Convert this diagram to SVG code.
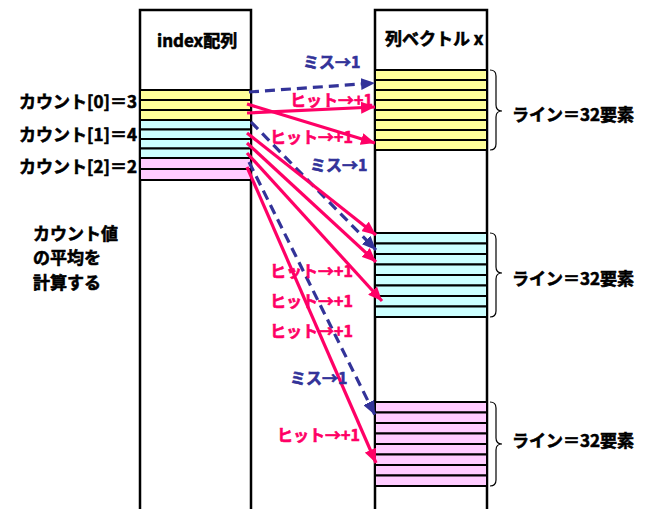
<svg xmlns="http://www.w3.org/2000/svg" width="652" height="509" viewBox="0 0 652 509">
<defs>
<style>
text{font-family:"Noto Sans CJK JP","Liberation Sans",sans-serif;font-weight:bold;stroke-width:0.6;}
.t{font-size:17px;fill:#000;stroke:#000;}
.lbl{font-size:16px;}
.hit{fill:#FF0066;stroke:#FF0066;}
.miss{fill:#333399;stroke:#333399;}
.col{fill:#fff;stroke:#000;stroke-width:2.5;}
.y{fill:#FFFF99;stroke:#000;stroke-width:2;}
.c{fill:#CCFFFF;stroke:#000;stroke-width:2;}
.p{fill:#FFCCFF;stroke:#000;stroke-width:2;}
.br{fill:none;stroke:#000;stroke-width:1.2;}
.pl{stroke:#FF0066;stroke-width:3.2;fill:none;marker-end:url(#ah);}
.bl{stroke:#333399;stroke-width:3.2;fill:none;stroke-dasharray:10 6;marker-end:url(#ab);}
</style>
<marker id="ah" markerUnits="userSpaceOnUse" markerWidth="15" markerHeight="12" refX="14" refY="6" orient="auto"><path d="M0,0 L14,6 L0,12 Z" fill="#FF0066"/></marker>
<marker id="ab" markerUnits="userSpaceOnUse" markerWidth="15" markerHeight="12" refX="14" refY="6" orient="auto"><path d="M0,0 L14,6 L0,12 Z" fill="#333399"/></marker>
</defs>
<rect width="652" height="509" fill="#fff"/>

<g id="index-array">
<rect class="col" x="140" y="10" width="111" height="520"/>
<text class="t" x="157" y="47" font-size="19">index配列</text>
<rect class="y" x="140" y="90" width="111" height="10"/>
<rect class="y" x="140" y="100" width="111" height="10"/>
<rect class="y" x="140" y="110" width="111" height="10"/>
<rect class="c" x="140" y="120" width="111" height="9.5"/>
<rect class="c" x="140" y="129.5" width="111" height="9.5"/>
<rect class="c" x="140" y="139" width="111" height="9.5"/>
<rect class="c" x="140" y="148.5" width="111" height="9.5"/>
<rect class="p" x="140" y="158" width="111" height="11"/>
<rect class="p" x="140" y="169" width="111" height="11"/>
</g>

<g id="vector-x">
<rect class="col" x="375" y="10" width="112" height="520"/>
<text class="t" x="385" y="45">列ベクトル x</text>
<g id="line-0">
<rect class="y" x="375" y="70" width="112" height="10"/>
<rect class="y" x="375" y="80" width="112" height="10"/>
<rect class="y" x="375" y="90" width="112" height="10"/>
<rect class="y" x="375" y="100" width="112" height="10"/>
<rect class="y" x="375" y="110" width="112" height="10"/>
<rect class="y" x="375" y="120" width="112" height="10"/>
<rect class="y" x="375" y="130" width="112" height="10"/>
<rect class="y" x="375" y="140" width="112" height="10"/>
</g>
<g id="line-1">
<rect class="c" x="375" y="233" width="112" height="10.5"/>
<rect class="c" x="375" y="243.5" width="112" height="10.5"/>
<rect class="c" x="375" y="254" width="112" height="10.5"/>
<rect class="c" x="375" y="264.5" width="112" height="10.5"/>
<rect class="c" x="375" y="275" width="112" height="10.5"/>
<rect class="c" x="375" y="285.5" width="112" height="10.5"/>
<rect class="c" x="375" y="296" width="112" height="10.5"/>
<rect class="c" x="375" y="306.5" width="112" height="10.5"/>
</g>
<g id="line-2">
<rect class="p" x="375" y="402" width="112" height="10.5"/>
<rect class="p" x="375" y="412.5" width="112" height="10.5"/>
<rect class="p" x="375" y="423" width="112" height="10.5"/>
<rect class="p" x="375" y="433.5" width="112" height="10.5"/>
<rect class="p" x="375" y="444" width="112" height="10.5"/>
<rect class="p" x="375" y="454.5" width="112" height="10.5"/>
<rect class="p" x="375" y="465" width="112" height="10.5"/>
<rect class="p" x="375" y="475.5" width="112" height="10.5"/>
</g>
</g>

<g id="braces">
<path class="br" d="M490,70 Q496,70 496,76 L496,105 Q496,111 502,111 Q496,111 496,117 L496,144 Q496,150 490,150"/>
<path class="br" d="M490,233 Q496,233 496,239 L496,267 Q496,273 502,273 Q496,273 496,279 L496,311 Q496,317 490,317"/>
<path class="br" d="M490,402 Q496,402 496,408 L496,438 Q496,444 502,444 Q496,444 496,450 L496,480 Q496,486 490,486"/>
<text class="t" x="512" y="121" font-size="18">ライン＝32要素</text>
<text class="t" x="512" y="285" font-size="18">ライン＝32要素</text>
<text class="t" x="512" y="447" font-size="18">ライン＝32要素</text>
</g>

<g id="counts">
<text class="t" x="137" y="108" text-anchor="end" font-size="16">カウント[0]＝3</text>
<text class="t" x="137" y="141" text-anchor="end" font-size="16">カウント[1]＝4</text>
<text class="t" x="137" y="173" text-anchor="end" font-size="16">カウント[2]＝2</text>
<text class="t" x="33" y="240">カウント値</text>
<text class="t" x="33" y="264">の平均を</text>
<text class="t" x="33" y="289">計算する</text>
</g>

<g id="connectors">
<line class="bl" x1="249" y1="92" x2="375" y2="83"/>
<line class="pl" x1="247" y1="104" x2="375" y2="143"/>
<line class="pl" x1="247" y1="113" x2="375" y2="107"/>
<line class="bl" x1="251" y1="122" x2="376" y2="250"/>
<line class="pl" x1="247" y1="133" x2="376" y2="235"/>
<line class="pl" x1="247" y1="143" x2="376" y2="262"/>
<line class="pl" x1="247" y1="153" x2="382" y2="301"/>
<line class="bl" x1="249" y1="162" x2="375" y2="415"/>
<line class="pl" x1="247" y1="167" x2="376" y2="463"/>
</g>

<g id="labels">
<text class="lbl miss" x="303" y="68">ミス→1</text>
<text class="lbl hit" x="290" y="106">ヒット→+1</text>
<text class="lbl hit" x="270" y="143">ヒット→+1</text>
<text class="lbl miss" x="310" y="171">ミス→1</text>
<text class="lbl hit" x="270" y="277">ヒット→+1</text>
<text class="lbl hit" x="270" y="307">ヒット→+1</text>
<text class="lbl hit" x="270" y="337">ヒット→+1</text>
<text class="lbl miss" x="290" y="384">ミス→1</text>
<text class="lbl hit" x="277" y="441">ヒット→+1</text>
</g>
</svg>
